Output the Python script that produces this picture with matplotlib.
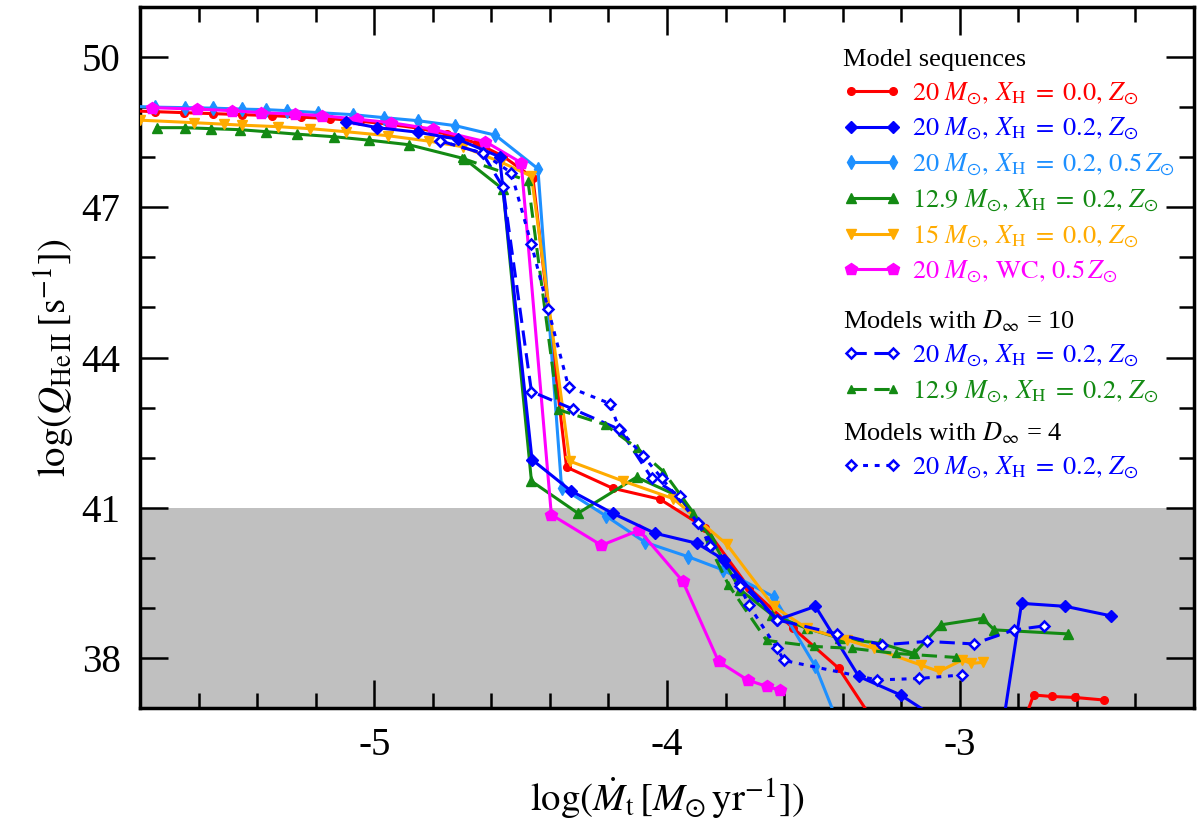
import matplotlib
matplotlib.use('Agg')
import matplotlib.pyplot as plt
from matplotlib.ticker import MultipleLocator

plt.rcParams['font.family'] = ['Liberation Serif', 'DejaVu Serif']
plt.rcParams['mathtext.fontset'] = 'stix'
plt.rcParams['axes.unicode_minus'] = False

# ---------------- data (log Mdot, log Q_HeII) ----------------
red_x = [-5.85, -5.75, -5.65, -5.55, -5.45, -5.35, -5.25, -5.15, -5.05, -4.95, -4.85,
         -4.75, -4.65, -4.56, -4.458, -4.343, -4.186, -4.024, -3.87, -3.72, -3.57,
         -3.413, -3.2, -2.85, -2.748, -2.686, -2.605, -2.509]
red_y = [48.93, 48.91, 48.89, 48.87, 48.85, 48.83, 48.80, 48.77, 48.72, 48.66, 48.58,
         48.46, 48.28, 48.02, 47.59, 41.81, 41.39, 41.17, 40.60, 39.40, 38.60,
         37.79, 35.90, 35.60, 37.26, 37.23, 37.21, 37.16]

blue_x = [-5.097, -4.989, -4.852, -4.715, -4.572, -4.461, -4.329, -4.186, -4.041, -3.898,
          -3.805, -3.624, -3.493, -3.345, -3.202, -2.87, -2.789, -2.639, -2.483]
blue_y = [48.71, 48.59, 48.50, 48.36, 48.01, 41.96, 41.34, 40.89, 40.49, 40.29,
          39.96, 38.76, 39.03, 37.63, 37.26, 36.00, 39.09, 39.03, 38.84]

lblue_x = [-5.85, -5.75, -5.645, -5.55, -5.45, -5.37, -5.297, -5.191, -5.074, -4.966,
           -4.852, -4.723, -4.586, -4.441, -4.36, -4.207, -4.075, -3.927, -3.81, -3.635,
           -3.493, -3.3]
lblue_y = [49.02, 49.00, 48.99, 48.98, 48.96, 48.95, 48.93, 48.89, 48.85, 48.79,
           48.73, 48.63, 48.44, 47.77, 41.40, 40.83, 40.31, 40.02, 39.76, 39.22,
           37.83, 35.00]

green_x = [-5.742, -5.647, -5.556, -5.459, -5.369, -5.263, -5.139, -5.017, -4.882, -4.692,
           -4.56, -4.463, -4.304, -4.104, -3.961, -3.85, -3.75, -3.641, -3.522, -3.408,
           -3.271, -3.156, -3.065, -2.922, -2.882, -2.631]
green_y = [48.59, 48.59, 48.57, 48.55, 48.51, 48.46, 48.41, 48.34, 48.25, 47.97,
           47.36, 41.53, 40.89, 41.61, 41.23, 40.40, 39.36, 38.86, 38.59, 38.39,
           38.29, 38.09, 38.66, 38.79, 38.56, 38.48]

orange_x = [-5.85, -5.80, -5.616, -5.514, -5.451, -5.329, -5.219, -5.097, -4.954, -4.812,
            -4.698, -4.566, -4.463, -4.332, -4.149, -3.978, -3.796, -3.636, -3.522, -3.385,
            -3.293, -3.134, -3.071, -2.991, -2.962, -2.922]
orange_y = [48.75, 48.74, 48.69, 48.66, 48.64, 48.61, 48.57, 48.51, 48.43, 48.32,
            48.21, 47.90, 47.62, 41.93, 41.53, 41.18, 40.27, 39.03, 38.59, 38.36,
            38.19, 37.86, 37.73, 37.96, 37.89, 37.91]

wc_x = [-5.759, -5.605, -5.487, -5.388, -5.271, -5.177, -5.059, -4.943, -4.80, -4.62,
        -4.498, -4.395, -4.224, -4.095, -3.946, -3.824, -3.725, -3.659, -3.615]
wc_y = [48.99, 48.96, 48.93, 48.89, 48.86, 48.83, 48.76, 48.69, 48.56, 48.31,
        47.89, 40.86, 40.25, 40.55, 39.53, 37.93, 37.56, 37.43, 37.36]

d10b_x = [-4.777, -4.63, -4.56, -4.463, -4.321, -4.161, -4.052, -3.955, -3.893, -3.75,
          -3.624, -3.419, -3.265, -3.113, -2.953, -2.814, -2.711]
d10b_y = [48.33, 48.08, 47.40, 43.32, 42.97, 42.56, 41.59, 41.23, 40.69, 39.50,
          38.76, 38.48, 38.26, 38.33, 38.28, 38.56, 38.64]

d10g_x = [-4.70, -4.475, -4.372, -4.212, -4.104, -4.012, -3.91, -3.79, -3.66, -3.499,
          -3.367, -3.219, -3.014]
d10g_y = [47.98, 47.53, 42.96, 42.66, 42.20, 41.72, 40.90, 39.46, 38.35, 38.23,
          38.19, 38.09, 38.01]

d4b_x = [-4.777, -4.63, -4.532, -4.463, -4.406, -4.336, -4.195, -4.163, -4.081, -4.018,
         -3.893, -3.853, -3.75, -3.721, -3.624, -3.601, -3.282, -3.139, -2.994]
d4b_y = [48.33, 48.08, 47.69, 46.26, 44.97, 43.41, 43.08, 42.57, 42.03, 41.59,
         40.69, 40.24, 39.43, 39.06, 38.19, 37.95, 37.56, 37.59, 37.66]

x_ticks = [-5, -4, -3]
y_ticks = [38, 41, 44, 47, 50]
q_limit = 41

labels = [r'$20\ M_{\odot},\, X_{\mathrm{H}}\;=\;0.0,\, Z_{\odot}$',
          r'$20\ M_{\odot},\, X_{\mathrm{H}}\;=\;0.2,\, Z_{\odot}$',
          r'$20\ M_{\odot},\, X_{\mathrm{H}}\;=\;0.2,\, 0.5\, Z_{\odot}$',
          r'$12.9\ M_{\odot},\, X_{\mathrm{H}}\;=\;0.2,\, Z_{\odot}$',
          r'$15\ M_{\odot},\, X_{\mathrm{H}}\;=\;0.0,\, Z_{\odot}$',
          r'$20\ M_{\odot},\, \mathrm{WC},\, 0.5\, Z_{\odot}$']
d10_labels = [r'$20\ M_{\odot},\, X_{\mathrm{H}}\;=\;0.2,\, Z_{\odot}$',
              r'$12.9\ M_{\odot},\, X_{\mathrm{H}}\;=\;0.2,\, Z_{\odot}$']
d4_labels = [r'$20\ M_{\odot},\, X_{\mathrm{H}}\;=\;0.2,\, Z_{\odot}$']

# ---------------- figure ----------------
fig = plt.figure(figsize=(12, 8.27), dpi=100)
ax = fig.add_axes([140 / 1200, 1 - 708 / 827, (1194 - 140) / 1200, (708 - 7) / 827])
ax.set_xlim(-5.8, -2.2)
ax.set_ylim(37, 51)
ax.axhspan(30, q_limit, color='#c0c0c0', lw=0, zorder=0)

RED, BLUE, LBLUE, GREEN, ORANGE, MAG = '#ff0000', '#0000ff', '#1e90ff', '#138a13', '#ffab00', '#ff00ff'
lw = 2.2

l_red, = ax.plot(red_x, red_y, color=RED, lw=lw, marker='o', ms=5.5, label=labels[0], zorder=3)
l_blue, = ax.plot(blue_x, blue_y, color=BLUE, lw=lw, marker='D', ms=6.5, label=labels[1], zorder=4)
l_lblue, = ax.plot(lblue_x, lblue_y, color=LBLUE, lw=lw, marker='d', ms=7.5, label=labels[2], zorder=3)
l_green, = ax.plot(green_x, green_y, color=GREEN, lw=lw, marker='^', ms=6.5, label=labels[3], zorder=3)
l_orange, = ax.plot(orange_x, orange_y, color=ORANGE, lw=lw, marker='v', ms=6.5, label=labels[4], zorder=3)
l_wc, = ax.plot(wc_x, wc_y, color=MAG, lw=lw, marker='p', ms=9, label=labels[5], zorder=3)

l_d10b, = ax.plot(d10b_x, d10b_y, color=BLUE, lw=lw, ls=(0, (5, 2.5)), marker='D', ms=5,
                  mfc='white', mew=1.8, label=d10_labels[0], zorder=4)
l_d10g, = ax.plot(d10g_x, d10g_y, color=GREEN, lw=lw, ls=(0, (5, 2.5)), marker='^', ms=6,
                  label=d10_labels[1], zorder=4)
l_d4b, = ax.plot(d4b_x, d4b_y, color=BLUE, lw=lw, ls=(0, (1.6, 2.2)), marker='D', ms=5,
                 mfc='white', mew=1.8, label=d4_labels[0], zorder=4)

# ---------------- axes styling ----------------
ax.set_xticks(x_ticks)
ax.set_xticklabels([str(v) for v in x_ticks])
ax.set_yticks(y_ticks)
ax.set_yticklabels([str(v) for v in y_ticks])
ax.xaxis.set_minor_locator(MultipleLocator(0.2))
ax.yaxis.set_minor_locator(MultipleLocator(1))
ax.tick_params(which='both', direction='in', top=True, right=True, width=1.8, labelsize=28)
ax.tick_params(which='major', length=20, pad=14)
ax.tick_params(which='minor', length=11)
for s in ax.spines.values():
    s.set_linewidth(2.5)

ax.set_xlabel(r'$\log(\dot{M}_{\mathrm{t}}\,[M_{\odot}\,\mathrm{yr}^{-1}])$', fontsize=28, labelpad=8)
ax.set_ylabel(r'$\log(Q_{\mathrm{He\,II}}\,[\mathrm{s}^{-1}])$', fontsize=28, labelpad=3)

# ---------------- legends ----------------
common = dict(loc='upper left', bbox_transform=fig.transFigure, frameon=False,
              fontsize=19, title_fontsize=19, labelcolor='linecolor', alignment='left',
              numpoints=2, handlelength=2.2, handletextpad=0.4, labelspacing=0.35,
              borderpad=0, borderaxespad=0)
leg1 = ax.legend(handles=[l_red, l_blue, l_lblue, l_green, l_orange, l_wc],
                 title='Model sequences', bbox_to_anchor=(843 / 1200, 1 - 49 / 827), **common)
ax.add_artist(leg1)
leg2 = ax.legend(handles=[l_d10b, l_d10g], title=r'Models with $D_{\infty}$ = 10',
                 bbox_to_anchor=(843 / 1200, 1 - 308 / 827), **common)
ax.add_artist(leg2)
leg3 = ax.legend(handles=[l_d4b], title=r'Models with $D_{\infty}$ = 4',
                 bbox_to_anchor=(843 / 1200, 1 - 420 / 827), **common)

fig.savefig('out.png', dpi=100)
